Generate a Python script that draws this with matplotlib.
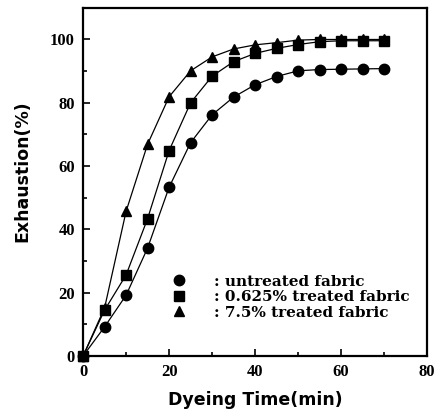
import matplotlib

matplotlib.use("Agg")
import matplotlib.pyplot as plt
from matplotlib.ticker import MultipleLocator

# dyeing time (min)
time = [0, 5, 10, 15, 20, 25, 30, 35, 40, 45, 50, 55, 60, 65, 70]

# exhaustion (%)
untreated = [0, 9.2, 19.2, 34.1, 53.3, 67.4, 76.2, 81.8, 85.7, 88.3, 90.1, 90.5, 90.6, 90.7, 90.8]
treated_0625 = [0, 14.5, 25.6, 43.4, 64.9, 80.0, 88.4, 93.0, 95.6, 97.2, 98.4, 99.3, 99.6, 99.6, 99.6]
treated_75 = [0, 15.2, 45.7, 66.9, 81.9, 90.1, 94.5, 97.0, 98.3, 99.0, 99.8, 100.0, 100.0, 100.0, 100.0]

labels = [": untreated fabric", ": 0.625% treated fabric", ": 7.5% treated fabric"]

fig = plt.figure(figsize=(4.35, 4.12), dpi=100)
ax = fig.add_axes([0.191, 0.136, 0.791, 0.845])

line_kw = dict(color="black", lw=0.9, clip_on=False)
ax.plot(time, untreated, marker="o", markersize=7.5, label=labels[0], **line_kw)
ax.plot(time, treated_0625, marker="s", markersize=7, label=labels[1], **line_kw)
ax.plot(time, treated_75, marker="^", markersize=7.5, label=labels[2], **line_kw)

ax.set_xlim(0, 80)
ax.set_ylim(0, 110)
ax.xaxis.set_major_locator(MultipleLocator(20))
ax.xaxis.set_minor_locator(MultipleLocator(10))
ax.yaxis.set_major_locator(MultipleLocator(20))
ax.yaxis.set_minor_locator(MultipleLocator(10))
ax.tick_params(which="both", direction="in", top=False, right=False, width=1.2)
ax.tick_params(which="major", length=5, pad=6)
ax.tick_params(which="minor", length=3)
for spine in ax.spines.values():
    spine.set_linewidth(1.6)

for lab in ax.get_xticklabels() + ax.get_yticklabels():
    lab.set_fontfamily("Liberation Serif")
    lab.set_fontweight("bold")
    lab.set_fontsize(12)

ax.set_xlabel("Dyeing Time(min)", fontsize=12.5, fontweight="bold", labelpad=8)
ax.set_ylabel("Exhaustion(%)", fontsize=12.5, fontweight="bold")
ax.yaxis.set_label_coords(-0.15, 0.53)

leg = ax.legend(
    loc="lower left",
    bbox_to_anchor=(0.213, 0.065),
    frameon=False,
    prop={"family": "DejaVu Serif", "weight": "bold", "size": 11},
    handlelength=1.1,
    handletextpad=1.8,
    labelspacing=0.1,
)
for h in leg.legend_handles:
    h.set_linestyle("none")

fig.savefig("out.png", dpi=100)
